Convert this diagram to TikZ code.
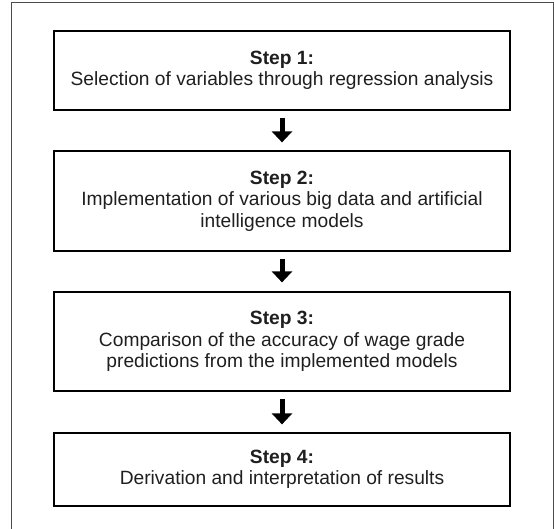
\documentclass[tikz,border=0pt]{standalone}
\usepackage{fontspec}
\setmainfont{Liberation Sans}
\usetikzlibrary{arrows.meta}
\tikzset{
  stepbox/.style={draw=black, line width=1.2pt, minimum width=456pt, inner sep=0pt,
    align=center, text=black!88, font=\fontsize{19.2pt}{21.5pt}\selectfont},
  bigarrow/.style={draw=black, line width=5pt, -{Triangle[width=20pt,length=11pt]}},
  frame/.style={draw=black!70, line width=1pt}
}
\begin{document}
\begin{tikzpicture}[x=1pt,y=-1pt]
\useasboundingbox (0,0) rectangle (554,529);
\draw[frame] (11,531) -- (11,3) -- (553,3) -- (553,531);
\node[stepbox, minimum height=79pt] (b1) at (282,70.5)
  {\textbf{Step 1:}\\Selection of variables through regression analysis};
\node[stepbox, minimum height=100pt] (b2) at (282,201)
  {\textbf{Step 2:}\\Implementation of various big data and artificial\\intelligence models};
\node[stepbox, minimum height=99pt] (b3) at (282,341.5)
  {\textbf{Step 3:}\\Comparison of the accuracy of wage grade\\predictions from the implemented models};
\node[stepbox, minimum height=73pt] (b4) at (282,469.5)
  {\textbf{Step 4:}\\Derivation and interpretation of results};
\draw[bigarrow] ([yshift=-7pt]b1.south) -- ([yshift=8pt]b2.north);
\draw[bigarrow] ([yshift=-7pt]b2.south) -- ([yshift=9pt]b3.north);
\draw[bigarrow] ([yshift=-7pt]b3.south) -- ([yshift=8pt]b4.north);
\end{tikzpicture}
\end{document}
